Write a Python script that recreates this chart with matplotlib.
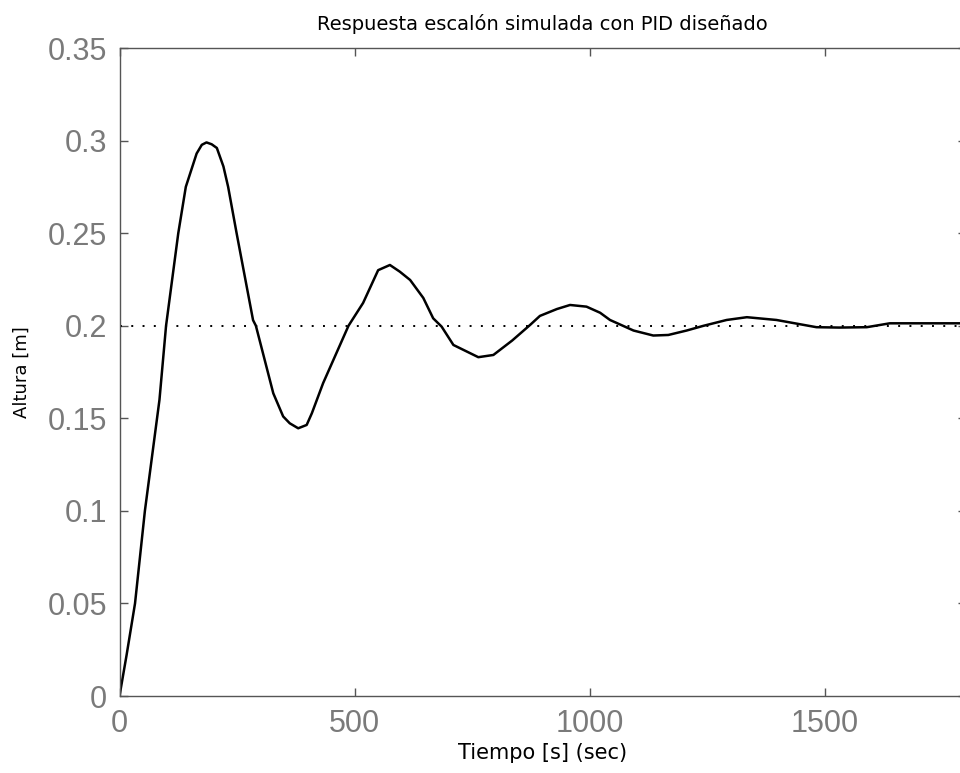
import matplotlib
matplotlib.use("Agg")
import matplotlib.pyplot as plt

# Data
t = [0, 15, 33, 54, 85, 99, 125, 141, 164, 175, 185, 196, 207, 221, 231, 249, 284,
     290, 327, 348, 362, 380, 398, 409, 433, 487, 518, 550, 575, 596, 618, 646, 667,
     685, 710, 763, 795, 835, 873, 894, 930, 958, 993, 1022, 1043, 1093, 1135, 1167,
     1206, 1241, 1291, 1334, 1397, 1447, 1482, 1530, 1589, 1638, 1700, 1800]
y = [0.0, 0.022, 0.050, 0.100, 0.160, 0.200, 0.250, 0.275, 0.293, 0.2977, 0.299,
     0.298, 0.296, 0.286, 0.275, 0.250, 0.203, 0.200, 0.1635, 0.151, 0.1473, 0.1446,
     0.1464, 0.1527, 0.169, 0.200, 0.2123, 0.2300, 0.2328, 0.2292, 0.2247, 0.2150,
     0.2040, 0.1995, 0.1896, 0.1830, 0.1842, 0.1920, 0.2004, 0.2053, 0.2090, 0.2112,
     0.2103, 0.2070, 0.2031, 0.1974, 0.1947, 0.1950, 0.1974, 0.1999, 0.2031, 0.2046,
     0.2031, 0.2008, 0.1992, 0.1990, 0.1992, 0.2013, 0.2013, 0.2013]
reference = 0.2

xticks = [0, 500, 1000, 1500]
yticks = [0, 0.05, 0.1, 0.15, 0.2, 0.25, 0.3, 0.35]
ytick_labels = ["0", "0.05", "0.1", "0.15", "0.2", "0.25", "0.3", "0.35"]

title = "Respuesta escalón simulada con PID diseñado"
xlabel = "Tiempo [s] (sec)"
ylabel = "Altura [m]"

plt.rcParams['font.family'] = ['Liberation Sans', 'DejaVu Sans']

fig = plt.figure(figsize=(9.6, 7.73), dpi=100)
ax = fig.add_axes([119.5/960, 77/773, (966-119.5)/960, (696-48)/773])

ax.plot(t, y, color='black', lw=1.8)
ax.axhline(reference, color='black', lw=1.4, linestyle=(0, (1, 4.8)))

ax.set_xlim(0, 1800)
ax.set_ylim(0, 0.35)
ax.set_xticks(xticks)
ax.set_xticklabels([str(v) for v in xticks])
ax.set_yticks(yticks)
ax.set_yticklabels(ytick_labels)

ax.tick_params(direction='in', length=6, width=1, colors='#555555',
               labelsize=22, top=True, right=True, pad=9)
for tl in ax.get_xticklabels() + ax.get_yticklabels():
    tl.set_color('#7a7a7a')
for s in ax.spines.values():
    s.set_color('#555555')
    s.set_linewidth(1.0)

lab_font = ['DejaVu Sans']
ax.set_title(title, fontsize=14, color='black', pad=13, family=lab_font)
ax.set_xlabel(xlabel, fontsize=15, color='black', labelpad=3, family=lab_font)
ax.set_ylabel(ylabel, fontsize=13, color='black', labelpad=12, family=lab_font)

fig.savefig("out.png", dpi=100)
